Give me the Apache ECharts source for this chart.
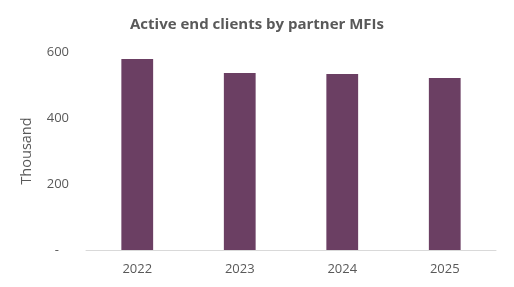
<!DOCTYPE html>
<html><head><meta charset="utf-8">
<script src="https://cdn.jsdelivr.net/npm/echarts@6/dist/echarts.min.js"></script>
<style>html,body{margin:0;padding:0;background:#fff}#c{width:514px;height:287px}</style>
</head><body><div id="c"></div>
<script>
const categories = ['2022', '2023', '2024', '2025'];
const clients = [579, 536, 533, 521];
const yTicks = [0, 200, 400, 600];

const chart = echarts.init(document.getElementById('c'));
chart.setOption({
  animation: false,
  title: {
    text: 'Active end clients by partner MFIs',
    left: 'center', top: 12,
    textStyle: { fontFamily: 'Open Sans', fontSize: 15, fontWeight: 'bold', color: '#595959' }
  },
  grid: { left: 86, right: 18, top: 52, bottom: 37 },
  xAxis: {
    type: 'category', data: categories,
    axisLine: { lineStyle: { color: '#d9d9d9' } },
    axisTick: { show: false },
    axisLabel: { color: '#595959', fontFamily: 'Open Sans', fontSize: 13, margin: 13 }
  },
  yAxis: {
    type: 'value', min: 0, max: 600, interval: 200,
    name: 'Thousand', nameLocation: 'middle', nameGap: 52, nameRotate: 90,
    nameTextStyle: { color: '#595959', fontFamily: 'Open Sans', fontSize: 14.5 },
    axisLine: { show: false }, axisTick: { show: false }, splitLine: { show: false },
    axisLabel: {
      color: '#595959', fontFamily: 'Open Sans', fontSize: 13, margin: 17,
      formatter: v => (v === 0 ? '-   ' : String(v))
    }
  },
  series: [{
    type: 'bar', data: clients, barWidth: '31%',
    itemStyle: { color: '#6b3f63' }
  }]
});
</script></body></html>
